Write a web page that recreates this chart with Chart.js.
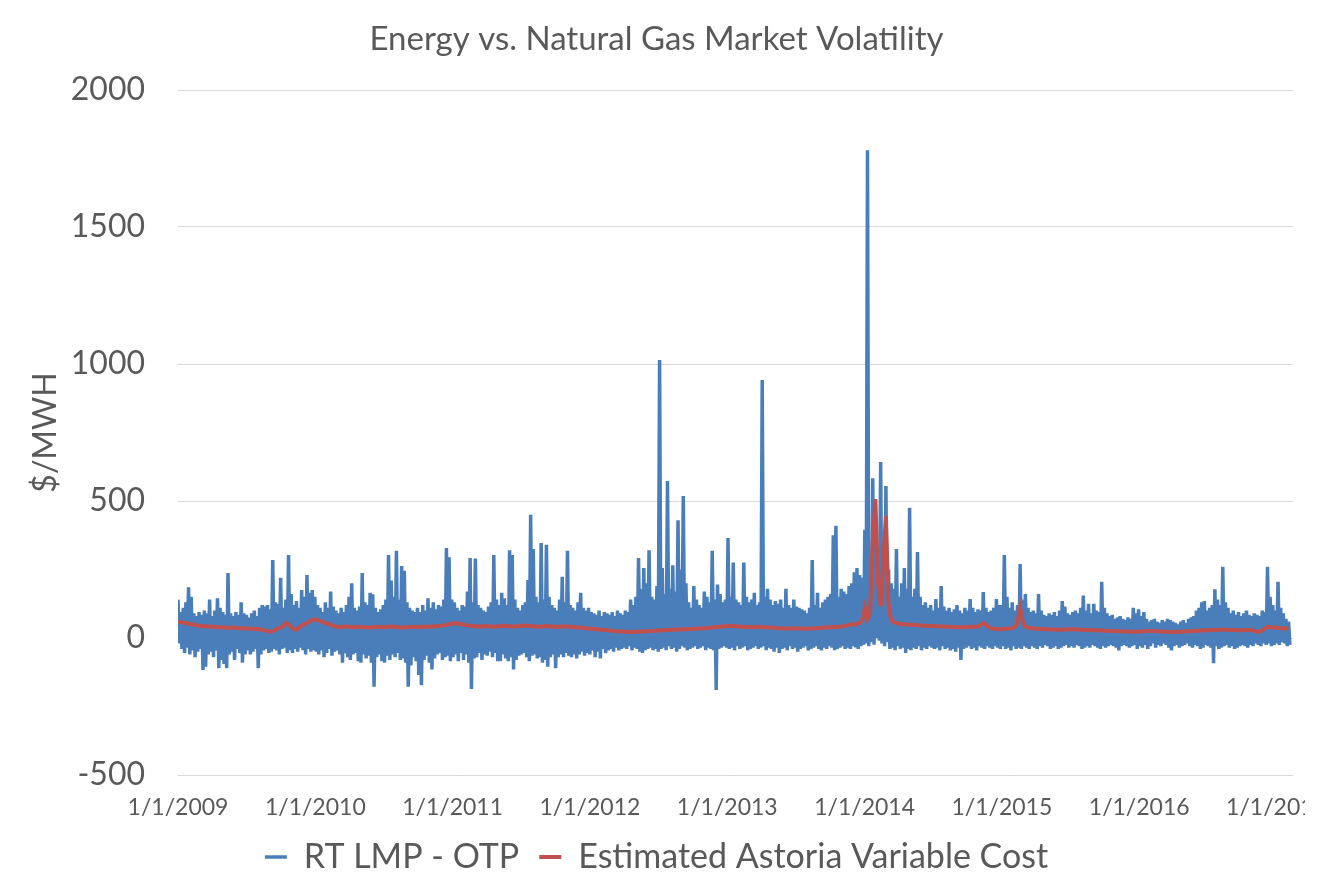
<!DOCTYPE html>
<html>
<head>
<meta charset="utf-8">
<script src="https://cdn.jsdelivr.net/npm/chart.js@4.4.1/dist/chart.umd.min.js"></script>
<style>
  html, body { margin: 0; padding: 0; background: #ffffff; }
  #wrap { width: 1305px; height: 877px; overflow: hidden; position: relative; background: #ffffff; }
  canvas { display: block; }
</style>
</head>
<body>
<div id="wrap"><canvas id="c" width="1373" height="884"></canvas></div>
<script>
// ---- Data (weekly, week 0 = first week of Jan 2009) ----
const startYear = 2009;
const tickYears = [2009, 2010, 2011, 2012, 2013, 2014, 2015, 2016, 2017];
const yTicks = [-500, 0, 500, 1000, 1500, 2000];

// RT LMP - OTP : weekly upper envelope ($/MWH)
const rtHigh = [
  // 2009
  140,95,110,130,185,150,90,80,95,85,100,90,140,
  80,100,145,110,95,85,237,90,80,95,85,130,90,
  85,75,90,100,80,110,120,115,120,105,285,130,125,
  220,110,140,303,160,120,135,110,175,150,230,165,175,
  // 2010
  150,120,110,95,130,110,170,115,100,90,110,95,120,
  150,200,110,100,115,237,130,120,165,160,110,95,105,
  120,140,303,210,150,318,140,263,245,130,110,100,95,
  110,95,120,100,145,110,130,105,120,115,140,328,295,
  // 2011
  140,130,110,100,120,115,170,292,130,290,120,110,100,
  95,115,130,303,140,120,165,145,120,320,303,140,110,
  100,120,130,212,450,325,150,130,347,140,340,150,120,
  110,100,140,223,130,318,120,110,100,130,165,110,100,
  // 2012
  110,95,90,85,100,80,95,90,85,95,80,100,90,
  85,100,95,140,120,150,292,180,255,200,320,150,140,
  190,1015,255,160,573,180,265,170,430,250,518,200,130,
  110,190,140,120,110,170,150,130,318,140,195,160,130,140,
  // 2013
  365,150,275,140,130,120,275,150,130,140,165,120,130,
  942,150,180,140,120,135,125,140,110,180,120,110,140,
  115,110,105,100,90,110,285,120,165,110,130,140,150,
  160,375,410,150,180,170,160,190,200,240,255,230,220,
  // 2014
  395,1780,300,583,350,250,642,300,555,250,200,180,325,
  150,200,255,180,475,150,180,314,150,120,130,110,120,
  100,142,110,190,115,100,110,95,105,120,100,90,110,
  100,142,110,95,105,100,168,110,95,100,110,142,120,
  // 2015
  120,303,150,110,130,100,120,270,140,160,110,95,100,
  90,160,100,85,80,90,85,95,80,100,135,115,90,
  85,95,100,90,110,155,100,125,90,125,100,95,205,
  110,90,80,85,70,75,80,70,65,75,70,110,90,
  // 2016
  105,80,95,70,60,65,70,60,55,65,60,70,65,
  60,55,50,60,65,55,70,75,80,100,110,130,135,
  100,110,120,178,140,120,260,130,110,90,100,85,95,
  80,90,100,85,80,90,85,80,100,95,260,150,120,
  // 2017
  100,205,110,90,70,60
];

// RT LMP - OTP : weekly lower envelope ($/MWH)
const rtLow = [
  // 2009
  -20,-40,-55,-35,-60,-45,-70,-50,-40,-117,-105,-60,-50,
  -70,-45,-110,-80,-95,-110,-60,-50,-80,-40,-55,-90,-60,
  -45,-60,-50,-40,-110,-60,-45,-40,-55,-50,-40,-45,-60,
  -40,-35,-55,-45,-55,-40,-50,-35,-45,-60,-40,-50,-45,
  // 2010
  -50,-60,-45,-70,-55,-40,-65,-50,-45,-60,-90,-55,-70,
  -80,-60,-55,-85,-90,-60,-75,-65,-90,-178,-70,-60,-85,
  -90,-65,-80,-60,-70,-55,-80,-75,-90,-178,-100,-70,-85,
  -135,-172,-80,-65,-90,-115,-75,-60,-55,-80,-70,-65,-85,
  // 2011
  -70,-60,-85,-55,-80,-60,-90,-186,-75,-70,-55,-80,-60,
  -65,-50,-70,-55,-85,-85,-60,-75,-85,-70,-115,-80,-65,
  -60,-55,-70,-85,-65,-60,-75,-70,-90,-80,-105,-70,-60,
  -110,-70,-60,-70,-55,-65,-70,-60,-75,-60,-50,-65,-55,
  // 2012
  -60,-45,-70,-50,-75,-40,-55,-45,-40,-50,-35,-45,-40,
  -35,-40,-30,-45,-35,-40,-50,-55,-45,-40,-35,-45,-40,
  -50,-40,-35,-45,-30,-40,-35,-50,-40,-30,-35,-45,-40,
  -35,-30,-40,-35,-30,-45,-35,-40,-45,-190,-40,-35,-30,-35,
  // 2013
  -40,-35,-45,-30,-40,-35,-30,-45,-40,-35,-30,-40,-35,
  -30,-45,-35,-40,-50,-35,-55,-40,-35,-45,-30,-40,-35,
  -50,-40,-35,-30,-45,-40,-35,-30,-40,-45,-35,-40,-30,
  -35,-45,-40,-35,-30,-40,-35,-40,-30,-35,-40,-30,-25,
  // 2014
  -20,-30,-15,-25,0,-10,-20,-30,-15,-40,-35,-45,-30,
  -40,-35,-55,-40,-45,-35,-40,-30,-45,-35,-40,-30,-35,
  -40,-35,-45,-30,-40,-35,-45,-40,-50,-35,-80,-40,-35,
  -30,-40,-35,-45,-30,-35,-40,-30,-35,-40,-30,-35,-40,
  // 2015
  -30,-40,-35,-45,-30,-40,-35,-40,-30,-35,-40,-30,-35,
  -40,-30,-35,-25,-30,-40,-35,-30,-40,-35,-30,-25,-35,
  -30,-35,-25,-30,-40,-35,-30,-35,-25,-30,-35,-40,-30,
  -35,-30,-25,-30,-35,-45,-30,-25,-30,-35,-30,-25,-40,
  // 2016
  -30,-35,-25,-40,-30,-20,-35,-25,-30,-20,-25,-35,-45,
  -30,-25,-35,-30,-25,-20,-30,-35,-25,-30,-40,-35,-25,
  -30,-35,-92,-30,-40,-35,-30,-25,-35,-30,-40,-35,-30,
  -25,-30,-35,-25,-30,-20,-25,-30,-20,-25,-20,-30,-25,
  // 2017
  -20,-25,-15,-20,-30,-25
];

// Estimated Astoria Variable Cost : weekly ($/MWH)
const astoria = [
  // 2009
  60,58,56,55,52,50,48,47,45,44,43,42,42,
  41,40,40,39,38,38,37,37,38,37,36,36,36,
  35,35,34,34,33,32,30,28,25,23,25,30,35,38,45,55,
  50,40,32,30,38,45,50,55,60,65,
  // 2010
  68,66,62,58,55,52,48,45,42,40,40,41,42,
  41,40,39,40,41,40,39,38,38,39,40,41,40,
  39,40,41,42,41,40,39,38,38,39,40,41,40,
  40,41,40,41,42,41,42,43,44,45,46,48,50,
  // 2011
  52,53,54,52,50,48,46,45,44,43,42,42,43,
  44,43,42,41,42,43,44,45,44,43,42,42,43,
  44,45,46,45,44,43,42,41,42,43,44,43,42,
  41,40,41,42,43,42,41,40,39,38,38,37,36,
  // 2012
  35,34,33,32,31,30,29,28,27,26,25,25,24,
  24,23,23,22,22,23,23,24,24,25,25,26,26,
  27,27,28,28,29,29,30,30,31,31,32,32,33,
  33,34,34,35,35,36,36,37,38,39,40,41,42,43,
  // 2013
  44,45,44,43,42,41,40,40,41,40,39,40,41,
  40,39,38,38,37,37,36,36,36,35,35,35,36,
  36,35,35,34,34,35,35,36,36,37,37,38,38,
  39,40,40,41,42,43,45,48,50,48,52,55,65,
  // 2014
  110,70,90,350,507,200,115,280,445,120,65,58,55,
  52,50,50,49,48,48,47,47,46,46,45,45,44,
  44,43,43,42,42,41,41,40,40,40,39,39,40,
  40,40,41,41,42,48,55,48,40,36,34,33,32,
  // 2015
  33,33,34,35,36,40,55,110,60,42,38,36,35,
  34,34,33,33,32,32,31,31,30,30,30,31,31,
  32,32,31,31,30,30,29,29,28,28,28,27,27,
  27,26,26,26,25,25,25,24,24,24,23,23,23,
  // 2016
  24,24,25,25,26,26,25,25,24,24,23,23,22,
  22,22,23,23,24,24,25,25,26,26,27,27,28,
  28,28,29,29,29,30,30,30,30,29,29,29,28,
  28,28,29,29,28,26,24,22,28,35,40,40,38,
  // 2017
  38,37,36,36,35,35
];

// ---- Build datasets from the arrays ----
const weekYears = 7 / 365.25;
const rtPoints = [];
rtHigh.forEach((h, w) => {
  const x = startYear + w * weekYears;
  rtPoints.push({ x: x, y: h });
  rtPoints.push({ x: x + weekYears / 2, y: rtLow[w] });
});
const astPoints = astoria.map((v, w) => ({ x: startYear + w * weekYears, y: v }));

const grey = '#595959';
const fam = 'Lato, "Open Sans", sans-serif';

new Chart(document.getElementById('c').getContext('2d'), {
  type: 'line',
  data: {
    datasets: [
      {
        label: 'RT LMP - OTP',
        data: rtPoints,
        borderColor: '#4A7EBB',
        backgroundColor: '#4A7EBB',
        borderWidth: 3.5,
        pointRadius: 0,
        tension: 0,
        order: 1
      },
      {
        label: 'Estimated Astoria Variable Cost',
        data: astPoints,
        borderColor: '#C0504D',
        backgroundColor: '#C0504D',
        borderWidth: 4,
        pointRadius: 0,
        tension: 0,
        order: 0
      }
    ]
  },
  options: {
    responsive: false,
    animation: false,
    events: [],
    layout: { padding: { left: 20, right: 80, top: 0, bottom: 0 } },
    plugins: {
      title: {
        display: true,
        text: 'Energy vs. Natural Gas Market Volatility',
        color: grey,
        font: { family: fam, size: 33, weight: 'normal' },
        padding: { top: 20, bottom: 30.4 }
      },
      legend: {
        position: 'bottom',
        labels: {
          usePointStyle: true,
          pointStyle: 'line',
          pointStyleWidth: 22,
          color: grey,
          font: { family: fam, size: 34 },
          padding: 20,
          sort: (a, b) => a.datasetIndex - b.datasetIndex
        }
      },
      tooltip: { enabled: false }
    },
    scales: {
      x: {
        type: 'linear',
        min: startYear,
        max: 2017.12,
        afterBuildTicks: (s) => { s.ticks = tickYears.map(v => ({ value: v })); },
        ticks: {
          autoSkip: false,
          maxRotation: 0,
          includeBounds: false,
          color: grey,
          font: { family: fam, size: 23 },
          padding: 19,
          callback: (v) => '1/1/' + Math.round(v)
        },
        grid: { display: false, drawTicks: false },
        border: { display: false },
        afterFit: (s) => { s.height = 45; }
      },
      y: {
        min: -500,
        max: 2000,
        afterBuildTicks: (s) => { s.ticks = yTicks.map(v => ({ value: v })); },
        ticks: {
          color: grey,
          font: { family: fam, size: 32 },
          padding: 33,
          callback: (v) => String(v)
        },
        grid: { color: '#d9d9d9', lineWidth: 1, drawTicks: false },
        border: { display: false },
        title: {
          display: true,
          text: '$/MWH',
          color: grey,
          font: { family: fam, size: 32 },
          padding: { top: 6, bottom: 0 }
        },
        afterFit: (s) => { s.width = 158; }
      }
    }
  }
});
</script>
</body>
</html>
